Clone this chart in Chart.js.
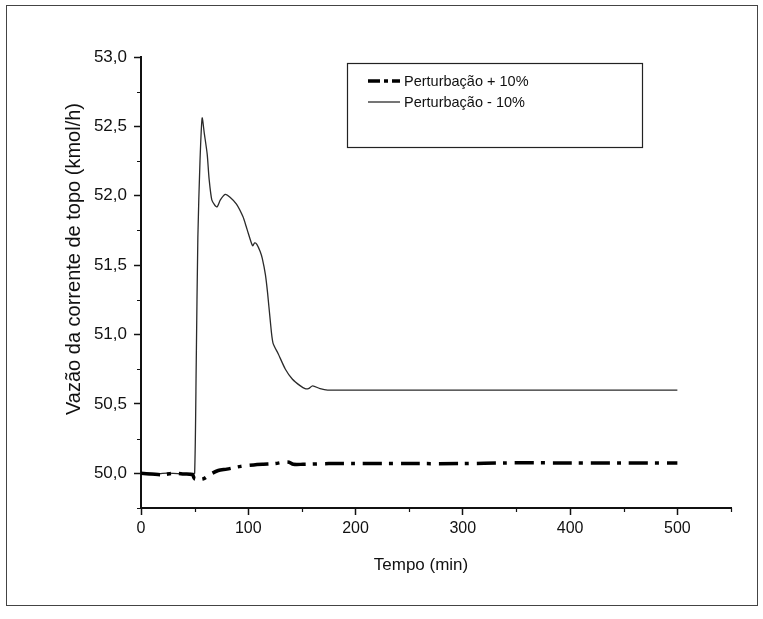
<!DOCTYPE html>
<html>
<head>
<meta charset="utf-8">
<script src="https://cdn.jsdelivr.net/npm/chart.js@4.4.1/dist/chart.umd.min.js"></script>
<style>
  html, body { margin: 0; padding: 0; background: #fff; }
  #wrap { width: 763px; height: 619px; }
</style>
</head>
<body>
<div id="wrap"><canvas id="c" width="763" height="619"></canvas></div>
<script>
// Perturbação + 10% (tempo em min, vazão em kmol/h)
const tempoMais = [0, 10, 20, 30, 40, 48, 50, 58, 64, 72, 80, 93, 105, 114, 125, 133, 138, 142, 151, 175, 200, 250, 300, 340, 400, 450, 500];
const vazaoMais = [50.0, 49.995, 49.99, 50.0, 49.995, 49.99, 49.96, 49.96, 49.99, 50.02, 50.03, 50.05, 50.06, 50.065, 50.07, 50.08, 50.08, 50.065, 50.065, 50.07, 50.07, 50.07, 50.07, 50.075, 50.075, 50.075, 50.075];

// Perturbação - 10%
const tempoMenos = [0, 10, 20, 30, 40, 48, 50, 51.5, 53, 55, 57, 59, 61.7, 63.5, 66, 69, 71, 74, 78.5, 83, 89, 95, 98, 100, 104, 106, 108, 111, 113, 116, 118, 120.5, 123, 128, 134.6, 141, 148.6, 153, 156, 160, 167, 174, 200, 250, 300, 350, 400, 450, 500];
const vazaoMenos = [50.0, 49.99, 50.0, 50.0, 49.995, 50.0, 50.0, 50.8, 51.7, 52.25, 52.56, 52.45, 52.3, 52.12, 51.97, 51.93, 51.92, 51.97, 52.01, 51.99, 51.94, 51.85, 51.78, 51.73, 51.64, 51.66, 51.65, 51.6, 51.55, 51.43, 51.3, 51.1, 50.94, 50.86, 50.75, 50.68, 50.63, 50.61, 50.61, 50.63, 50.61, 50.6, 50.6, 50.6, 50.6, 50.6, 50.6, 50.6, 50.6];

const yTickValues = [50.0, 50.5, 51.0, 51.5, 52.0, 52.5, 53.0];
const yMinorValues = [49.75, 50.25, 50.75, 51.25, 51.75, 52.25, 52.75];
const xTickValues = [0, 100, 200, 300, 400, 500];
const xMinorValues = [50, 150, 250, 350, 450, 550];

const seriesNames = ['Perturbação + 10%', 'Perturbação - 10%'];
const yAxisTitle = 'Vazão da corrente de topo (kmol/h)';
const xAxisTitle = 'Tempo (min)';

const FONT = '"Liberation Sans", Arial, sans-serif';
const INK = '#111';

function toPoints(xs, ys) {
  return xs.map((x, i) => ({ x: x, y: ys[i] }));
}

// Outer frame, minor ticks, axis titles and the boxed legend
const decorations = {
  id: 'decorations',
  beforeDraw(chart) {
    const ctx = chart.ctx;
    ctx.save();
    ctx.fillStyle = '#fff';
    ctx.fillRect(0, 0, chart.width, chart.height);
    ctx.restore();
  },
  afterDraw(chart) {
    const ctx = chart.ctx;
    const xs = chart.scales.x, ys = chart.scales.y;
    const area = chart.chartArea;
    ctx.save();

    // page frame
    ctx.strokeStyle = '#444';
    ctx.lineWidth = 1;
    ctx.strokeRect(6.5, 5.5, 751, 600);

    // minor ticks
    ctx.strokeStyle = INK;
    ctx.lineWidth = 1.2;
    ctx.beginPath();
    yMinorValues.forEach(v => {
      const py = Math.round(ys.getPixelForValue(v)) + 0.5;
      ctx.moveTo(area.left - 4, py);
      ctx.lineTo(area.left, py);
    });
    xMinorValues.forEach(v => {
      const px = Math.round(xs.getPixelForValue(v)) + 0.5;
      ctx.moveTo(px, area.bottom);
      ctx.lineTo(px, area.bottom + 4);
    });
    ctx.stroke();

    // axis titles
    ctx.fillStyle = INK;
    ctx.textAlign = 'center';
    ctx.textBaseline = 'middle';
    ctx.font = '17px ' + FONT;
    ctx.fillText(xAxisTitle, 421, 565);
    ctx.save();
    ctx.translate(74, 259);
    ctx.rotate(-Math.PI / 2);
    ctx.font = '20px ' + FONT;
    ctx.fillText(yAxisTitle, 0, 0);
    ctx.restore();

    // legend box
    ctx.strokeStyle = '#222';
    ctx.lineWidth = 1.2;
    ctx.strokeRect(347.5, 63.5, 295, 84);
    const rows = [81, 102];
    chart.data.datasets.forEach((ds, i) => {
      const y = rows[i];
      ctx.save();
      ctx.strokeStyle = ds.borderColor;
      ctx.lineWidth = ds.borderWidth;
      ctx.setLineDash(ds.legendDash || []);
      ctx.beginPath();
      ctx.moveTo(368, y);
      ctx.lineTo(400, y);
      ctx.stroke();
      ctx.restore();
      ctx.fillStyle = INK;
      ctx.font = '14.5px ' + FONT;
      ctx.textAlign = 'left';
      ctx.textBaseline = 'middle';
      ctx.fillText(ds.label, 404, y + 1);
    });
    ctx.restore();
  }
};

new Chart(document.getElementById('c'), {
  type: 'line',
  data: {
    datasets: [
      {
        label: seriesNames[0],
        data: toPoints(tempoMais, vazaoMais),
        borderColor: '#000',
        borderWidth: 3.5,
        borderDash: [19, 7, 4, 8],
        legendDash: [12, 4, 4, 4],
        pointRadius: 0,
        tension: 0.3,
        fill: false
      },
      {
        label: seriesNames[1],
        data: toPoints(tempoMenos, vazaoMenos),
        borderColor: '#2a2a2a',
        borderWidth: 1.3,
        pointRadius: 0,
        tension: 0.25,
        fill: false
      }
    ]
  },
  options: {
    responsive: false,
    devicePixelRatio: 1,
    animation: false,
    layout: { padding: { left: 0, top: 57, right: 32, bottom: 0 } },
    plugins: {
      legend: { display: false },
      tooltip: { enabled: false }
    },
    scales: {
      x: {
        type: 'linear',
        min: 0,
        max: 550,
        afterFit(scale) { scale.height = 111; },
        afterBuildTicks(scale) { scale.ticks = xTickValues.map(v => ({ value: v })); },
        border: { display: true, color: INK, width: 2 },
        grid: { drawOnChartArea: false, drawTicks: true, tickLength: 7, tickColor: INK, tickWidth: 1.5 },
        ticks: {
          color: INK,
          padding: 4,
          maxRotation: 0,
          autoSkip: false,
          font: { family: FONT, size: 16 },
          callback: v => String(v)
        }
      },
      y: {
        min: 49.75,
        max: 53.0,
        afterFit(scale) { scale.width = 141; },
        afterBuildTicks(scale) { scale.ticks = yTickValues.map(v => ({ value: v })); },
        border: { display: true, color: INK, width: 2 },
        grid: { drawOnChartArea: false, drawTicks: true, tickLength: 7, tickColor: INK, tickWidth: 1.5 },
        ticks: {
          color: INK,
          padding: 7,
          autoSkip: false,
          font: { family: FONT, size: 17 },
          callback: v => Number(v).toFixed(1).replace('.', ',')
        }
      }
    }
  },
  plugins: [decorations]
});
</script>
</body>
</html>
